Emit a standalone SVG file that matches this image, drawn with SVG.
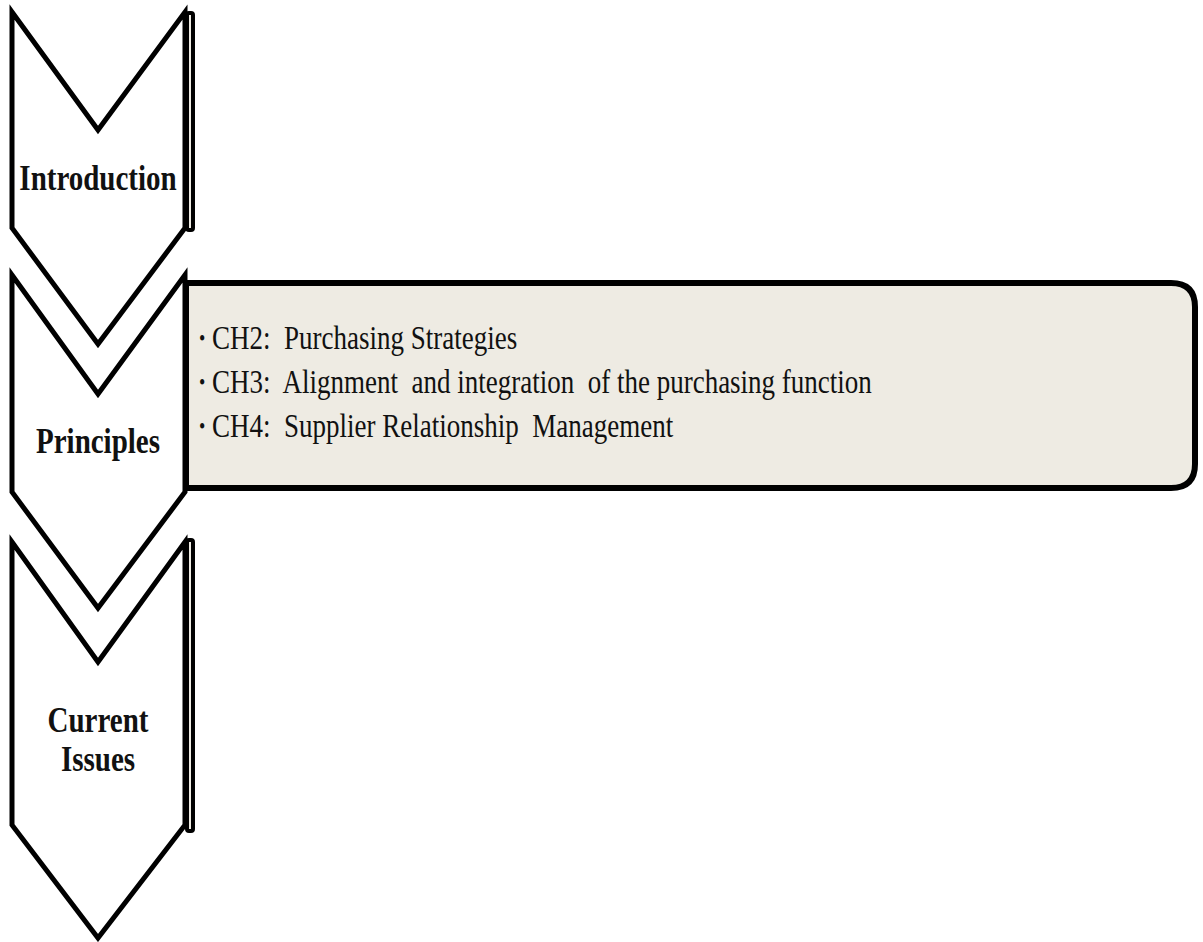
<svg xmlns="http://www.w3.org/2000/svg" width="1203" height="942" viewBox="0 0 1203 942">
  <style>
    .chev { fill: #ffffff; stroke: #000000; stroke-width: 5; stroke-linejoin: miter; stroke-miterlimit: 10; }
    .bar { fill: #EEEBE3; stroke: #000000; stroke-width: 4; }
    .panel { fill: #EEEBE3; stroke: #000000; stroke-width: 6; }
    .label { font-family: "Liberation Serif", "Times New Roman", serif; font-weight: bold; font-size: 29px; fill: #111111; text-anchor: middle; }
    .item { font-family: "Liberation Serif", "Times New Roman", serif; font-size: 27px; fill: #111111; white-space: pre; }
    .bullet { font-family: "Liberation Serif", "Times New Roman", serif; font-size: 18px; fill: #111111; }
  </style>
  <rect width="1203" height="942" fill="#ffffff"/>

  <g id="connectors"></g>

  <!-- Stage 1: Introduction (collapsed side panel) -->
  <g id="introduction">
    <rect class="bar" x="187" y="13" width="6" height="217" rx="2"/>
    <path class="chev" d="M12,12 L98,130 L185,12 L185,228 L98,344 L12,228 Z"/>
    <g transform="translate(98,190) scale(1,1.2)"><text class="label" x="0" y="0">Introduction</text></g>
  </g>

  <!-- Stage 2: Principles (expanded side panel) -->
  <g id="principles">
    <path class="panel" d="M186,283 L1171,283 Q1195,283 1195,307 L1195,464 Q1195,488 1171,488 L186,488 Z"/>
    <path class="chev" d="M12,275 L98,394 L185,275 L185,492 L98,608 L12,492 Z"/>
    <g transform="translate(98,453) scale(1,1.2)"><text class="label" x="0" y="0">Principles</text></g>
    <g transform="translate(0,349) scale(1,1.27)">
      <text class="bullet" x="199" y="-2">•</text>
      <text class="item" x="212" y="0" xml:space="preserve">CH2:  Purchasing Strategies</text>
    </g>
    <g transform="translate(0,393) scale(1,1.27)">
      <text class="bullet" x="199" y="-2">•</text>
      <text class="item" x="212" y="0" xml:space="preserve">CH3:  Alignment  and integration  of the purchasing function</text>
    </g>
    <g transform="translate(0,437) scale(1,1.27)">
      <text class="bullet" x="199" y="-2">•</text>
      <text class="item" x="212" y="0" xml:space="preserve">CH4:  Supplier Relationship  Management</text>
    </g>
  </g>

  <!-- Stage 3: Current Issues (collapsed side panel) -->
  <g id="current-issues">
    <rect class="bar" x="187" y="540" width="6" height="291" rx="2"/>
    <path class="chev" d="M12,542 L98,662 L185,542 L185,825 L98,938 L12,825 Z"/>
    <g transform="translate(98,732) scale(1,1.2)"><text class="label" x="0" y="0">Current</text></g>
    <g transform="translate(98,771) scale(1,1.2)"><text class="label" x="0" y="0">Issues</text></g>
  </g>
</svg>
